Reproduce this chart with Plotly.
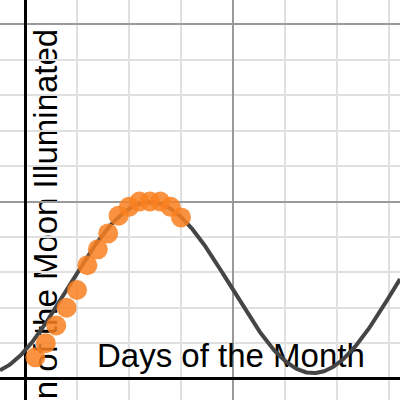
import numpy as np
import plotly.graph_objects as go

# observed data: fraction of the moon illuminated per day
days = [1, 2, 3, 4, 5, 6, 7, 8, 9, 10, 11, 12, 13, 14, 15]
fraction_lit = [0.12, 0.20, 0.30, 0.40, 0.50, 0.64, 0.73, 0.82, 0.92,
                0.97, 1.0, 1.0, 1.0, 0.97, 0.91]

# fitted model: y = amp * cos(freq * (x - peak_day)) + mid
amp = 0.483
mid = 0.514
freq = 0.2
peak_day = 12.0

x_label = "Days of the Month"
y_label = "Fraction of the Moon Illuminated"

x_range = [-2.404, 36.06]
y_range = [-0.121, 2.138]

model_x = np.linspace(x_range[0], x_range[1], 400)
model_y = amp * np.cos(freq * (model_x - peak_day)) + mid

fig = go.Figure()
fig.add_scatter(
    x=model_x,
    y=model_y,
    mode="lines",
    line=dict(color="#454545", width=4),
    hoverinfo="skip"
)
fig.add_scatter(
    x=days,
    y=fraction_lit,
    mode="markers",
    marker=dict(size=20, color="#f98020", opacity=0.85),
    hovertemplate="Day %{x}: %{y}<extra></extra>"
)

label_font = dict(family="Liberation Sans, Arial", size=33, color="black")

# labels as invisible shapes so the marks are drawn over them
fig.add_shape(
    type="rect", layer="between",
    xref="x", yref="y", x0=4.8, x1=34.8, y0=0.06, y1=0.24,
    line=dict(width=0), fillcolor="rgba(0,0,0,0)",
    label=dict(text=x_label, textposition="middle center", font=label_font)
)
fig.add_shape(
    type="rect", layer="between",
    xref="paper", yref="paper",
    x0=27 / 400, x1=57 / 400, y0=1 - 500 / 400, y1=1 - 29 / 400,
    line=dict(width=0), fillcolor="rgba(0,0,0,0)",
    label=dict(text=y_label, textposition="middle center", textangle=-90,
               font=label_font)
)

axis_common = dict(
    showticklabels=False,
    ticks="",
    showgrid=True,
    gridcolor="#9a9a9a",
    gridwidth=2,
    zeroline=True,
    zerolinecolor="black",
    zerolinewidth=2.5,
    showline=False,
    fixedrange=True
)
fig.update_xaxes(
    range=x_range, dtick=20, tick0=0,
    minor=dict(dtick=5, showgrid=True, gridcolor="#e0e0e0", gridwidth=2),
    **axis_common
)
fig.update_yaxes(
    range=y_range, dtick=1, tick0=0,
    minor=dict(dtick=0.2, showgrid=True, gridcolor="#e0e0e0", gridwidth=2),
    **axis_common
)
fig.update_layout(
    width=400,
    height=400,
    margin=dict(l=0, r=0, t=0, b=0),
    plot_bgcolor="white",
    paper_bgcolor="white",
    showlegend=False
)
fig.write_html(
    "out.html",
    config={"displayModeBar": False},
    post_script="document.body.style.margin = '0';"
)
